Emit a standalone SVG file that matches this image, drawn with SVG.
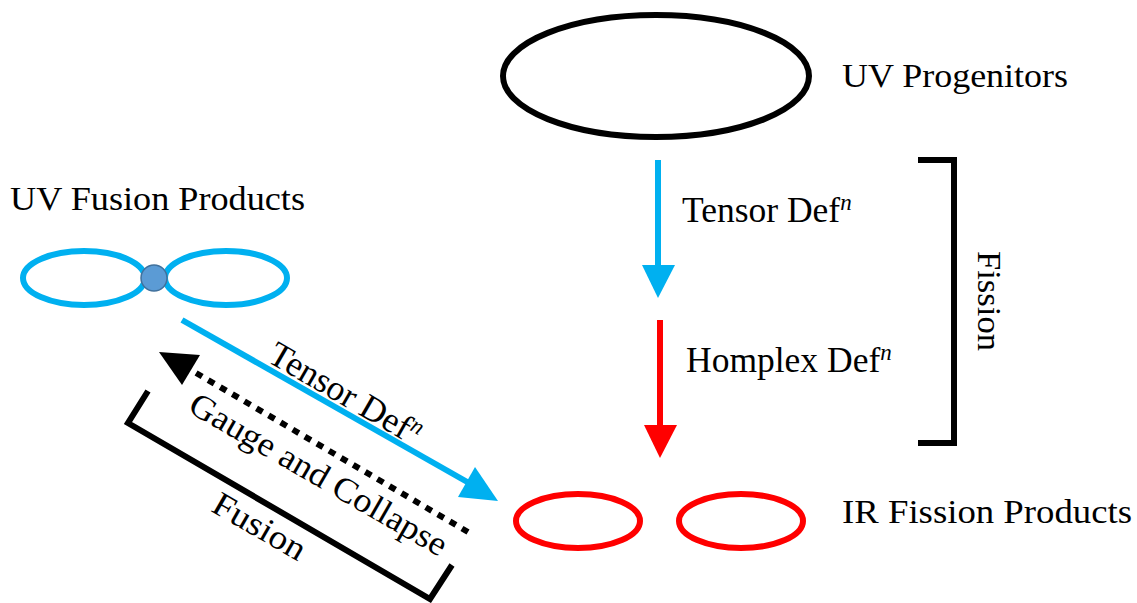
<svg xmlns="http://www.w3.org/2000/svg" width="1137" height="603" viewBox="0 0 1137 603">
<style>
.lbl{font-family:"Liberation Serif","Times New Roman",serif;font-size:34px;fill:#000}
.big{font-size:35.5px}
.sup{font-style:italic;font-size:23px}
.blk{fill:none;stroke:#000;stroke-width:6}
.blue{fill:none;stroke:#00b0f0;stroke-width:6}
.red{fill:none;stroke:#ff0000;stroke-width:6}
</style>
<rect width="1137" height="603" fill="#fff"/>
<g id="uv-progenitors">
<ellipse class="blk" cx="656" cy="76" rx="153" ry="61"/>
<text class="lbl" x="842" y="87" textLength="226" lengthAdjust="spacingAndGlyphs">UV Progenitors</text>
</g>
<g id="uv-fusion-products">
<ellipse class="blue" cx="84" cy="278" rx="61" ry="27"/>
<ellipse class="blue" cx="226" cy="278" rx="61" ry="27"/>
<circle cx="154" cy="278" r="13" fill="#5b9bd5" stroke="#41719c" stroke-width="1.5"/>
<text class="lbl" x="10" y="210" textLength="295" lengthAdjust="spacingAndGlyphs">UV Fusion Products</text>
</g>
<g id="ir-fission-products">
<ellipse class="red" cx="578" cy="521" rx="62" ry="27"/>
<ellipse class="red" cx="741" cy="521" rx="62" ry="27"/>
<text class="lbl" x="842" y="523" textLength="290" lengthAdjust="spacingAndGlyphs">IR Fission Products</text>
</g>
<g id="fission-bracket">
<polyline class="blk" points="918,160 954,160 954,443 918,443"/>
<text class="lbl" transform="translate(978,251) rotate(90)" textLength="100" lengthAdjust="spacingAndGlyphs">Fission</text>
</g>
<g id="fusion-bracket">
<polyline class="blk" points="148,391 128,423 430,599 452,565"/>
<text class="lbl" transform="translate(254,536) rotate(30)" text-anchor="middle" textLength="102" lengthAdjust="spacingAndGlyphs">Fusion</text>
</g>
<g id="connectors">
<line class="blue" x1="658" y1="160" x2="658" y2="268"/>
<polygon points="642,265 675,265 658,298" fill="#00b0f0"/>
<line class="red" x1="660" y1="320" x2="660" y2="428"/>
<polygon points="644,425 677,425 660,458" fill="#ff0000"/>
<line stroke="#00b0f0" stroke-width="6" x1="182" y1="320" x2="469" y2="483"/>
<polygon points="498,501 458,497 475,467" fill="#00b0f0"/>
<line stroke="#000" stroke-width="6" stroke-dasharray="7 7" x1="468" y1="532" x2="191" y2="370"/>
<polygon points="159,352 200,355 182,385" fill="#000"/>
</g>
<g id="labels">
<text class="lbl big" x="682" y="222">Tensor Def<tspan class="sup" dy="-12">n</tspan></text>
<text class="lbl big" x="686" y="372">Homplex Def<tspan class="sup" dy="-12">n</tspan></text>
<text class="lbl big" transform="translate(266,361) rotate(30)">Tensor Def<tspan class="sup" dy="-12">n</tspan></text>
<text class="lbl" transform="translate(313,484) rotate(30)" text-anchor="middle" textLength="292" lengthAdjust="spacingAndGlyphs">Gauge and Collapse</text>
</g>
</svg>
